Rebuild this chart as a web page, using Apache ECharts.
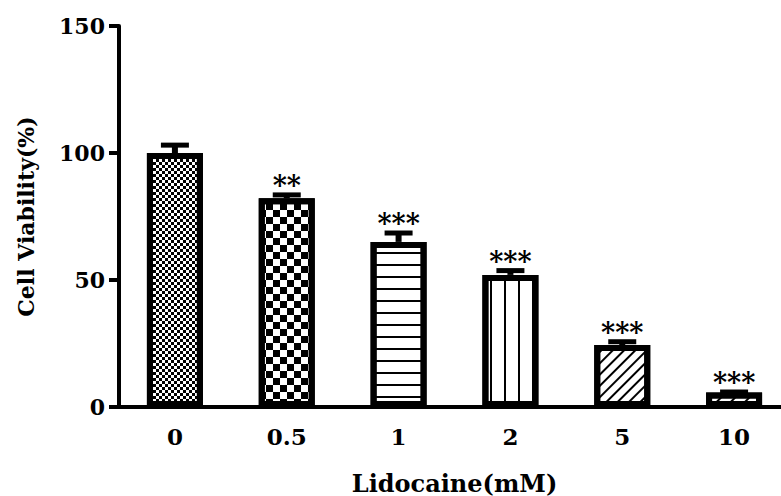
<!DOCTYPE html>
<html><head><meta charset="utf-8">
<script src="https://cdn.jsdelivr.net/npm/echarts@6/dist/echarts.min.js"></script>
<style>html,body{margin:0;padding:0;background:#fff}#c{width:781px;height:496px}</style>
</head><body><div id="c"></div>
<script>
// ---- data ----
const categories = ['0', '0.5', '1', '2', '5', '10'];
const viability = [100, 82.2, 65, 52, 24.4, 5.7];
const errorUpper = [103.1, 83.5, 68.5, 53.7, 25.7, 5.9];
const significance = ['', '**', '***', '***', '***', '***'];
const yMin = 0, yMax = 150, yStep = 50;
const xTitle = 'Lidocaine(mM)';
const yTitle = 'Cell Viability(%)';

// ---- styles ----
const FONT = '"DejaVu Serif", "Liberation Serif", serif';
const decals = [
  { symbol: 'rect', symbolSize: 1, dashArrayX: [[2.3, 2.3], [0, 2.3, 2.3, 0]], dashArrayY: [2.3, 0], color: '#000', backgroundColor: '#fff' },
  { symbol: 'rect', symbolSize: 1, dashArrayX: [[7, 7], [0, 7, 7, 0]], dashArrayY: [7, 0], color: '#000', backgroundColor: '#fff' },
  { symbol: 'rect', symbolSize: 1, dashArrayX: [1, 0], dashArrayY: [1.6, 9.7], color: '#000', backgroundColor: '#fff' },
  { symbol: 'rect', symbolSize: 1, dashArrayX: [2, 11.3], dashArrayY: [1, 0], color: '#000', backgroundColor: '#fff' },
  { symbol: 'rect', symbolSize: 1, dashArrayX: [1, 0], dashArrayY: [1.5, 5.2], rotation: -Math.PI / 4, color: '#000', backgroundColor: '#fff' },
  { symbol: 'rect', symbolSize: 1, dashArrayX: [1, 0], dashArrayY: [1.8, 7.5], rotation: -Math.PI / 4, color: '#000', backgroundColor: '#fff' }
];

const chart = echarts.init(document.getElementById('c'), null, { renderer: 'svg' });

const barData = viability.map((v, i) => ({
  value: v,
  itemStyle: { color: '#fff', borderColor: '#000', borderWidth: 6, decal: decals[i] }
}));
const errData = viability.map((v, i) => [i, v, errorUpper[i], significance[i]]);

chart.setOption({
  animation: false,
  backgroundColor: '#fff',
  aria: { enabled: false, decal: { show: true } },
  grid: { left: 119, top: 26, width: 671, height: 381, containLabel: false, outerBoundsMode: 'none' },
  xAxis: {
    type: 'category',
    data: categories,
    axisLine: { lineStyle: { color: '#000', width: 4 } },
    axisTick: { alignWithLabel: true, length: 10, lineStyle: { color: '#000', width: 4 } },
    axisLabel: { color: '#000', fontFamily: FONT, fontWeight: 'bold', fontSize: 23, margin: 18 },
    name: xTitle,
    nameLocation: 'middle',
    nameGap: 64,
    nameTextStyle: { color: '#000', fontFamily: FONT, fontWeight: 'bold', fontSize: 24 }
  },
  yAxis: {
    type: 'value',
    min: yMin, max: yMax, interval: yStep,
    splitLine: { show: false },
    axisLine: { show: true, lineStyle: { color: '#000', width: 4 } },
    axisTick: { show: true, length: 10, lineStyle: { color: '#000', width: 4 } },
    axisLabel: { color: '#000', fontFamily: FONT, fontWeight: 'bold', fontSize: 22, margin: 14 },
    name: yTitle,
    nameLocation: 'middle',
    nameGap: 82,
    nameTextStyle: { color: '#000', fontFamily: FONT, fontWeight: 'bold', fontSize: 22 }
  },
  series: [
    {
      type: 'bar',
      data: barData,
      barWidth: 56,
      z: 2
    },
    {
      type: 'custom',
      data: errData,
      z: 3,
      renderItem: function (params, api) {
        const idx = api.value(0);
        const base = api.coord([idx, api.value(1)]);
        const top = api.coord([idx, api.value(2)]);
        const x = base[0];
        const children = [
          { type: 'line', shape: { x1: x, y1: base[1], x2: x, y2: top[1] }, style: { stroke: '#000', lineWidth: 6 } },
          { type: 'line', shape: { x1: x - 14, y1: top[1], x2: x + 14, y2: top[1] }, style: { stroke: '#000', lineWidth: 5 } }
        ];
        const label = significance[idx];
        if (label) {
          children.push({
            type: 'text',
            style: {
              text: label, x: x, y: top[1] + 4,
              textAlign: 'center', textVerticalAlign: 'bottom',
              align: 'center', verticalAlign: 'bottom',
              font: 'bold 27px ' + FONT, fill: '#000'
            }
          });
        }
        return { type: 'group', children: children };
      }
    }
  ]
});
</script>
</body></html>
